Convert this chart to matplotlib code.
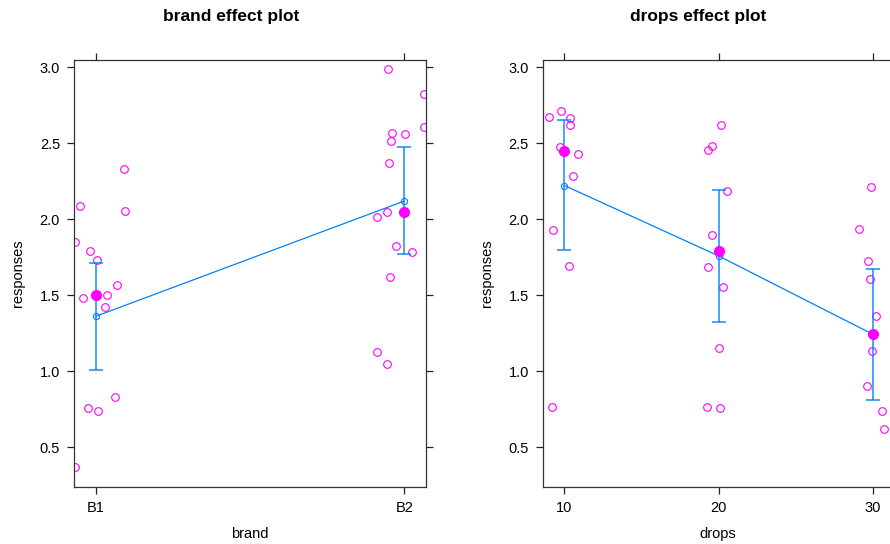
import matplotlib
matplotlib.use("Agg")
import matplotlib.pyplot as plt

plt.rcParams['font.family'] = ['Liberation Sans', 'DejaVu Sans']

# brand panel: partial residuals (jittered x), observed means, fitted effect + CI
brand_levels = ['B1', 'B2']
brand_pts_x = [1.092, 0.948, 1.094, 0.932, 0.981, 1.004, 1.069, 1.035, 0.957, 1.028,
               1.063, 0.973, 1.008, 0.932,
               1.948, 2.064, 2.064, 1.959, 2.003, 1.956, 1.951, 1.945, 1.910, 1.973,
               2.026, 1.954, 1.910, 1.945]
brand_pts_y = [2.331, 2.087, 2.057, 1.849, 1.794, 1.730, 1.566, 1.500, 1.482, 1.423,
               0.831, 0.757, 0.741, 0.368,
               2.987, 2.822, 2.605, 2.566, 2.559, 2.517, 2.372, 2.050, 2.013, 1.824,
               1.785, 1.622, 1.125, 1.048]
brand_means = [1.500, 2.050]
brand_fit = [1.362, 2.120]
brand_lower = [1.009, 1.770]
brand_upper = [1.714, 2.474]

# drops panel
drops_levels = [10, 20, 30]
drops_pts_x = [8.98, 9.79, 10.39, 10.35, 9.70, 10.86, 10.54, 9.27, 10.28, 9.22,
               20.16, 19.59, 19.29, 20.54, 19.59, 19.31, 20.30, 20.04, 19.22, 20.09,
               29.92, 29.14, 29.68, 29.81, 30.20, 29.96, 29.94, 29.62, 30.59, 30.76]
drops_pts_y = [2.671, 2.712, 2.664, 2.620, 2.478, 2.430, 2.287, 1.928, 1.695, 0.767,
               2.620, 2.484, 2.458, 2.188, 1.897, 1.686, 1.557, 1.153, 0.763, 0.761,
               2.211, 1.934, 1.726, 1.607, 1.362, 1.247, 1.132, 0.905, 0.741, 0.618]
drops_means = [2.451, 1.794, 1.247]
drops_fit = [2.222, 1.759, 1.244]
drops_lower = [1.795, 1.326, 0.810]
drops_upper = [2.650, 2.190, 1.672]

yticks = [0.5, 1.0, 1.5, 2.0, 2.5, 3.0]

blue = '#0080ff'
magenta = '#ff00ff'

fig = plt.figure(figsize=(8.9, 5.44), dpi=100)
ax1 = fig.add_axes([0.0831, 0.1048, 0.3955, 0.785])
ax2 = fig.add_axes([0.6098, 0.1048, 0.3955, 0.785])


def draw_panel(ax, xs, px, py, means, fit, lo, hi, xlim):
    ax.plot(px, py, 'o', ms=5.5, mfc='none', mec=magenta, mew=0.8, clip_on=True)
    ax.plot(xs, fit, '-', color=blue, lw=0.9)
    ax.plot(xs, fit, 'o', ms=4.5, mfc='none', mec=blue, mew=0.8)
    ax.errorbar(xs, fit, yerr=[[f - l for f, l in zip(fit, lo)], [h - f for f, h in zip(fit, hi)]],
                fmt='none', ecolor=blue, elinewidth=1.2, capsize=4.8, capthick=1.2, alpha=0.85)
    ax.plot(xs, means, 'o', ms=7, color=magenta, mec=magenta)
    ax.set_xlim(*xlim)
    ax.set_ylim(0.239, 3.048)
    ax.set_yticks(yticks)
    ax.set_yticklabels(['%.1f' % v for v in yticks])
    ax.tick_params(direction='out', length=5, width=0.9, labelsize=10.5, pad=5,
                   top=True, right=True, colors='#222222')
    for s in ax.spines.values():
        s.set_color('#333333')
        s.set_linewidth(0.9)


draw_panel(ax1, [1, 2], brand_pts_x, brand_pts_y, brand_means, brand_fit,
           brand_lower, brand_upper, (0.929, 2.07))
ax1.set_xticks([1, 2])
ax1.set_xticklabels(brand_levels)

draw_panel(ax2, drops_levels, drops_pts_x, drops_pts_y, drops_means, drops_fit,
           drops_lower, drops_upper, (8.59, 31.43))
ax2.set_xticks(drops_levels)
ax2.set_xticklabels([str(d) for d in drops_levels])
# right side of this panel falls off the canvas
ax2.spines['right'].set_visible(False)
ax2.tick_params(right=False)

for ax in (ax1, ax2):
    for lab in ax.get_xticklabels() + ax.get_yticklabels():
        lab.set_color('black')

fig.text(231 / 890, 1 - 17 / 544, 'brand effect plot', ha='center', va='center',
         fontsize=12.5, fontweight='bold')
fig.text(698 / 890, 1 - 17 / 544, 'drops effect plot', ha='center', va='center',
         fontsize=12.5, fontweight='bold')
fig.text(250 / 890, 1 - 534 / 544, 'brand', ha='center', va='center', fontsize=10.5)
fig.text(718 / 890, 1 - 534 / 544, 'drops', ha='center', va='center', fontsize=10.5)
fig.text(18 / 890, 1 - 273 / 544, 'responses', ha='center', va='center', fontsize=10.5,
         rotation=90)
fig.text(487 / 890, 1 - 273 / 544, 'responses', ha='center', va='center', fontsize=10.5,
         rotation=90)

fig.savefig('out.png', dpi=100)
